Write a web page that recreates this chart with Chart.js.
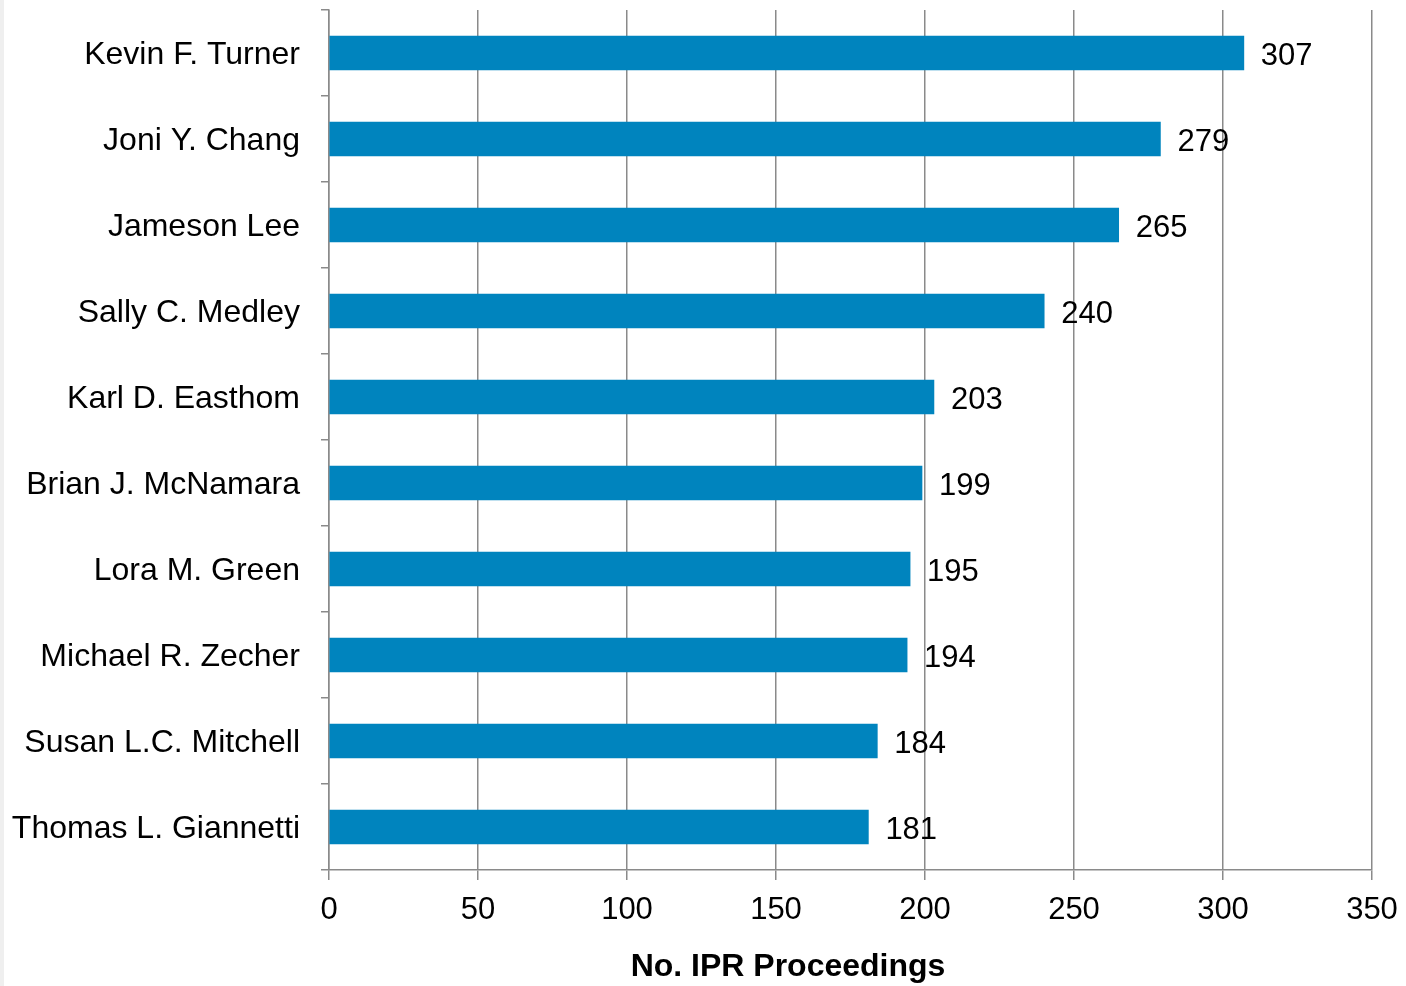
<!DOCTYPE html>
<html>
<head>
<meta charset="utf-8">
<script src="https://cdn.jsdelivr.net/npm/chart.js@4/dist/chart.umd.min.js"></script>
<style>
  html, body { margin: 0; padding: 0; background: #fff; }
  #wrap { width: 1406px; height: 986px; }
</style>
</head>
<body>
<div id="wrap"><canvas id="judges"></canvas></div>
<script>
const judges = ['Kevin F. Turner', 'Joni Y. Chang', 'Jameson Lee', 'Sally C. Medley',
  'Karl D. Easthom', 'Brian J. McNamara', 'Lora M. Green', 'Michael R. Zecher',
  'Susan L.C. Mitchell', 'Thomas L. Giannetti'];
const proceedings = [307, 279, 265, 240, 203, 199, 195, 194, 184, 181];
const xTicks = [0, 50, 100, 150, 200, 250, 300, 350];
const axisTitle = 'No. IPR Proceedings';

const barColor = 'rgb(0, 132, 190)';
const lineColor = '#8a8a8a';
const fontFamily = 'Arial, "Liberation Sans", sans-serif';

// white page with the thin grey strip at the left edge
const backdrop = {
    id: 'backdrop',
    beforeDraw(chart) {
        const ctx = chart.ctx;
        ctx.save();
        ctx.fillStyle = '#fff';
        ctx.fillRect(0, 0, chart.width, chart.height);
        ctx.fillStyle = '#efefef';
        ctx.fillRect(0, 0, 4, chart.height);
        ctx.restore();
    }
};

// value labels to the right of each bar, plus the axis title
const valueLabels = {
    id: 'valueLabels',
    afterDatasetsDraw(chart) {
        const ctx = chart.ctx;
        const meta = chart.getDatasetMeta(0);
        ctx.save();
        ctx.fillStyle = '#000';
        ctx.font = '31px ' + fontFamily;
        ctx.textAlign = 'left';
        ctx.textBaseline = 'middle';
        meta.data.forEach((bar, i) => {
            ctx.fillText(String(proceedings[i]), bar.x + 17, bar.y + 3);
        });
        ctx.font = 'bold 32px ' + fontFamily;
        ctx.textAlign = 'center';
        ctx.fillText(axisTitle, 788, 967);
        ctx.restore();
    }
};

const ctx = document.getElementById('judges').getContext('2d');
const myChart = new Chart(ctx, {
    type: 'bar',
    data: {
        labels: judges,
        datasets: [{
            label: axisTitle,
            data: proceedings,
            backgroundColor: barColor,
            borderWidth: 0,
            barThickness: 34,
            categoryPercentage: 1
        }]
    },
    options: {
        indexAxis: 'y',
        responsive: true,
        maintainAspectRatio: false,
        animation: false,
        devicePixelRatio: 1,
        layout: {
            padding: { top: 10, right: 34, bottom: 0, left: 0 }
        },
        plugins: {
            legend: { display: false },
            tooltip: { enabled: false }
        },
        scales: {
            x: {
                min: 0,
                max: 350,
                afterBuildTicks(scale) {
                    scale.ticks = xTicks.map(v => ({ value: v }));
                },
                afterFit(scale) {
                    scale.height = 116;
                    scale.paddingLeft = 0;
                    scale.paddingRight = 0;
                },
                grid: {
                    color: lineColor,
                    lineWidth: 1.5,
                    drawTicks: true,
                    tickLength: 10
                },
                border: { display: true, color: lineColor, width: 1.5 },
                ticks: {
                    color: '#000',
                    padding: 12,
                    maxRotation: 0,
                    font: { family: fontFamily, size: 31 }
                }
            },
            y: {
                afterFit(scale) {
                    scale.width = 329;
                    scale.paddingTop = 0;
                    scale.paddingBottom = 0;
                },
                grid: {
                    offset: true,
                    drawOnChartArea: false,
                    drawTicks: true,
                    tickLength: 8,
                    color: lineColor,
                    lineWidth: 1.5
                },
                border: { display: true, color: lineColor, width: 1.5 },
                ticks: {
                    color: '#000',
                    padding: 21,
                    labelOffset: 2,
                    autoSkip: false,
                    font: { family: fontFamily, size: 32 }
                }
            }
        }
    },
    plugins: [backdrop, valueLabels]
});
</script>
</body>
</html>
